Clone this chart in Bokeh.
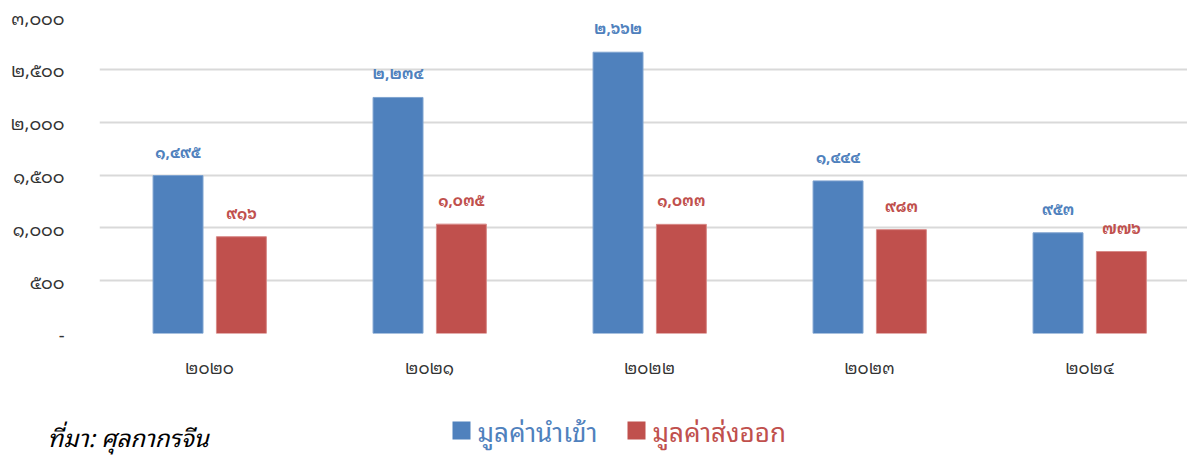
from bokeh.plotting import figure
from bokeh.layouts import column, row
from bokeh.models import ColumnDataSource, Range1d, FixedTicker
from bokeh.core.properties import value
from bokeh.embed import file_html
from bokeh.resources import INLINE

years = ["2020", "2021", "2022", "2023", "2024"]
imports = [1495, 2234, 2662, 1444, 953]
exports = [916, 1035, 1033, 983, 776]
y_ticks = [0, 500, 1000, 1500, 2000, 2500, 3000]
series_names = ["มูลค่านำเข้า", "มูลค่าส่งออก"]
source_note = "ที่มา: ศุลกากรจีน"

BLUE = "#4F81BD"
RED = "#C0504D"
FONT = "Noto Sans Thai Looped, Loma, Noto Sans Thai, Noto Sans, sans-serif"
TH = str.maketrans("0123456789", "๐๑๒๓๔๕๖๗๘๙")

def thai(n):
    return f"{n:,}".translate(TH)

W = 1187
centers = [i + 0.5 for i in range(len(years))]
src = ColumnDataSource(dict(
    xb=[c - 0.143 for c in centers],
    xr=[c + 0.145 for c in centers],
    imp=imports, exp=exports,
    limp=[thai(v) for v in imports],
    lexp=[thai(v) for v in exports],
))

p = figure(width=W, height=400, output_backend="svg", toolbar_location=None,
           x_range=Range1d(0, (W - 99) / 220), y_range=Range1d(0, 3000),
           min_border_left=99, min_border_right=0, min_border_top=16, min_border_bottom=67)
p.outline_line_color = None

rb = p.vbar(x="xb", top="imp", width=0.227, source=src, fill_color=BLUE, line_color="#7FA3D0", line_width=1)
rr = p.vbar(x="xr", top="exp", width=0.227, source=src, fill_color=RED, line_color="#D88A88", line_width=1)

p.text(x="xb", y="imp", text="limp", source=src, text_align="center", text_baseline="bottom",
       y_offset=-13, text_color=BLUE, text_font_size="15px", text_font_style="bold", text_font=value(FONT))
p.text(x="xr", y="exp", text="lexp", source=src, text_align="center", text_baseline="bottom",
       y_offset=-13, text_color=RED, text_font_size="15px", text_font_style="bold", text_font=value(FONT))

p.xaxis.ticker = FixedTicker(ticks=centers)
p.xaxis.major_label_overrides = {c: y.translate(TH) for c, y in zip(centers, years)}
p.xaxis.axis_line_color = None
p.xaxis.major_tick_line_color = None
p.xaxis.minor_tick_line_color = None
p.xaxis.major_label_standoff = 13
p.xaxis.major_label_text_font_size = "17px"
p.xaxis.major_label_text_font = FONT
p.xaxis.major_label_text_color = "#333333"

p.yaxis.ticker = FixedTicker(ticks=y_ticks)
p.yaxis.major_label_overrides = {t: ("-" if t == 0 else thai(t)) for t in y_ticks}
p.yaxis.axis_line_color = None
p.yaxis.major_tick_line_color = None
p.yaxis.minor_tick_line_color = None
p.yaxis.major_label_standoff = 29
p.yaxis.major_label_text_font_size = "18px"
p.yaxis.major_label_text_font = FONT
p.yaxis.major_label_text_color = "#333333"

p.xgrid.grid_line_color = None
p.ygrid.grid_line_color = "#D9D9D9"
p.ygrid.grid_line_width = 2

# bottom strip: source note and legend (pixel coordinates)
H2 = 55
q = figure(width=W, height=H2, output_backend="svg", toolbar_location=None,
           x_axis_type=None, y_axis_type=None,
           x_range=Range1d(0, W), y_range=Range1d(0, H2),
           min_border_left=0, min_border_right=0, min_border_top=0, min_border_bottom=0)
q.grid.visible = False
q.outline_line_color = None

leg = ColumnDataSource(dict(
    sx=[461, 636], sy=[25, 25], tx=[477, 652], ty=[26, 26],
    label=series_names, color=[BLUE, RED],
))
q.rect(x="sx", y="sy", width=18, height=18, source=leg, fill_color="color", line_color=None)
q.text(x="tx", y="ty", text="label", source=leg, text_color="color", text_baseline="middle",
       text_font_size="26px", text_font=value(FONT))
q.text(x=[47], y=[20], text=[source_note], text_baseline="middle", text_color="#000000",
       text_font_size="24px", text_font_style="italic", text_font=value(FONT))

open("out.html", "w").write(file_html(column(p, row(q), spacing=0), INLINE))
